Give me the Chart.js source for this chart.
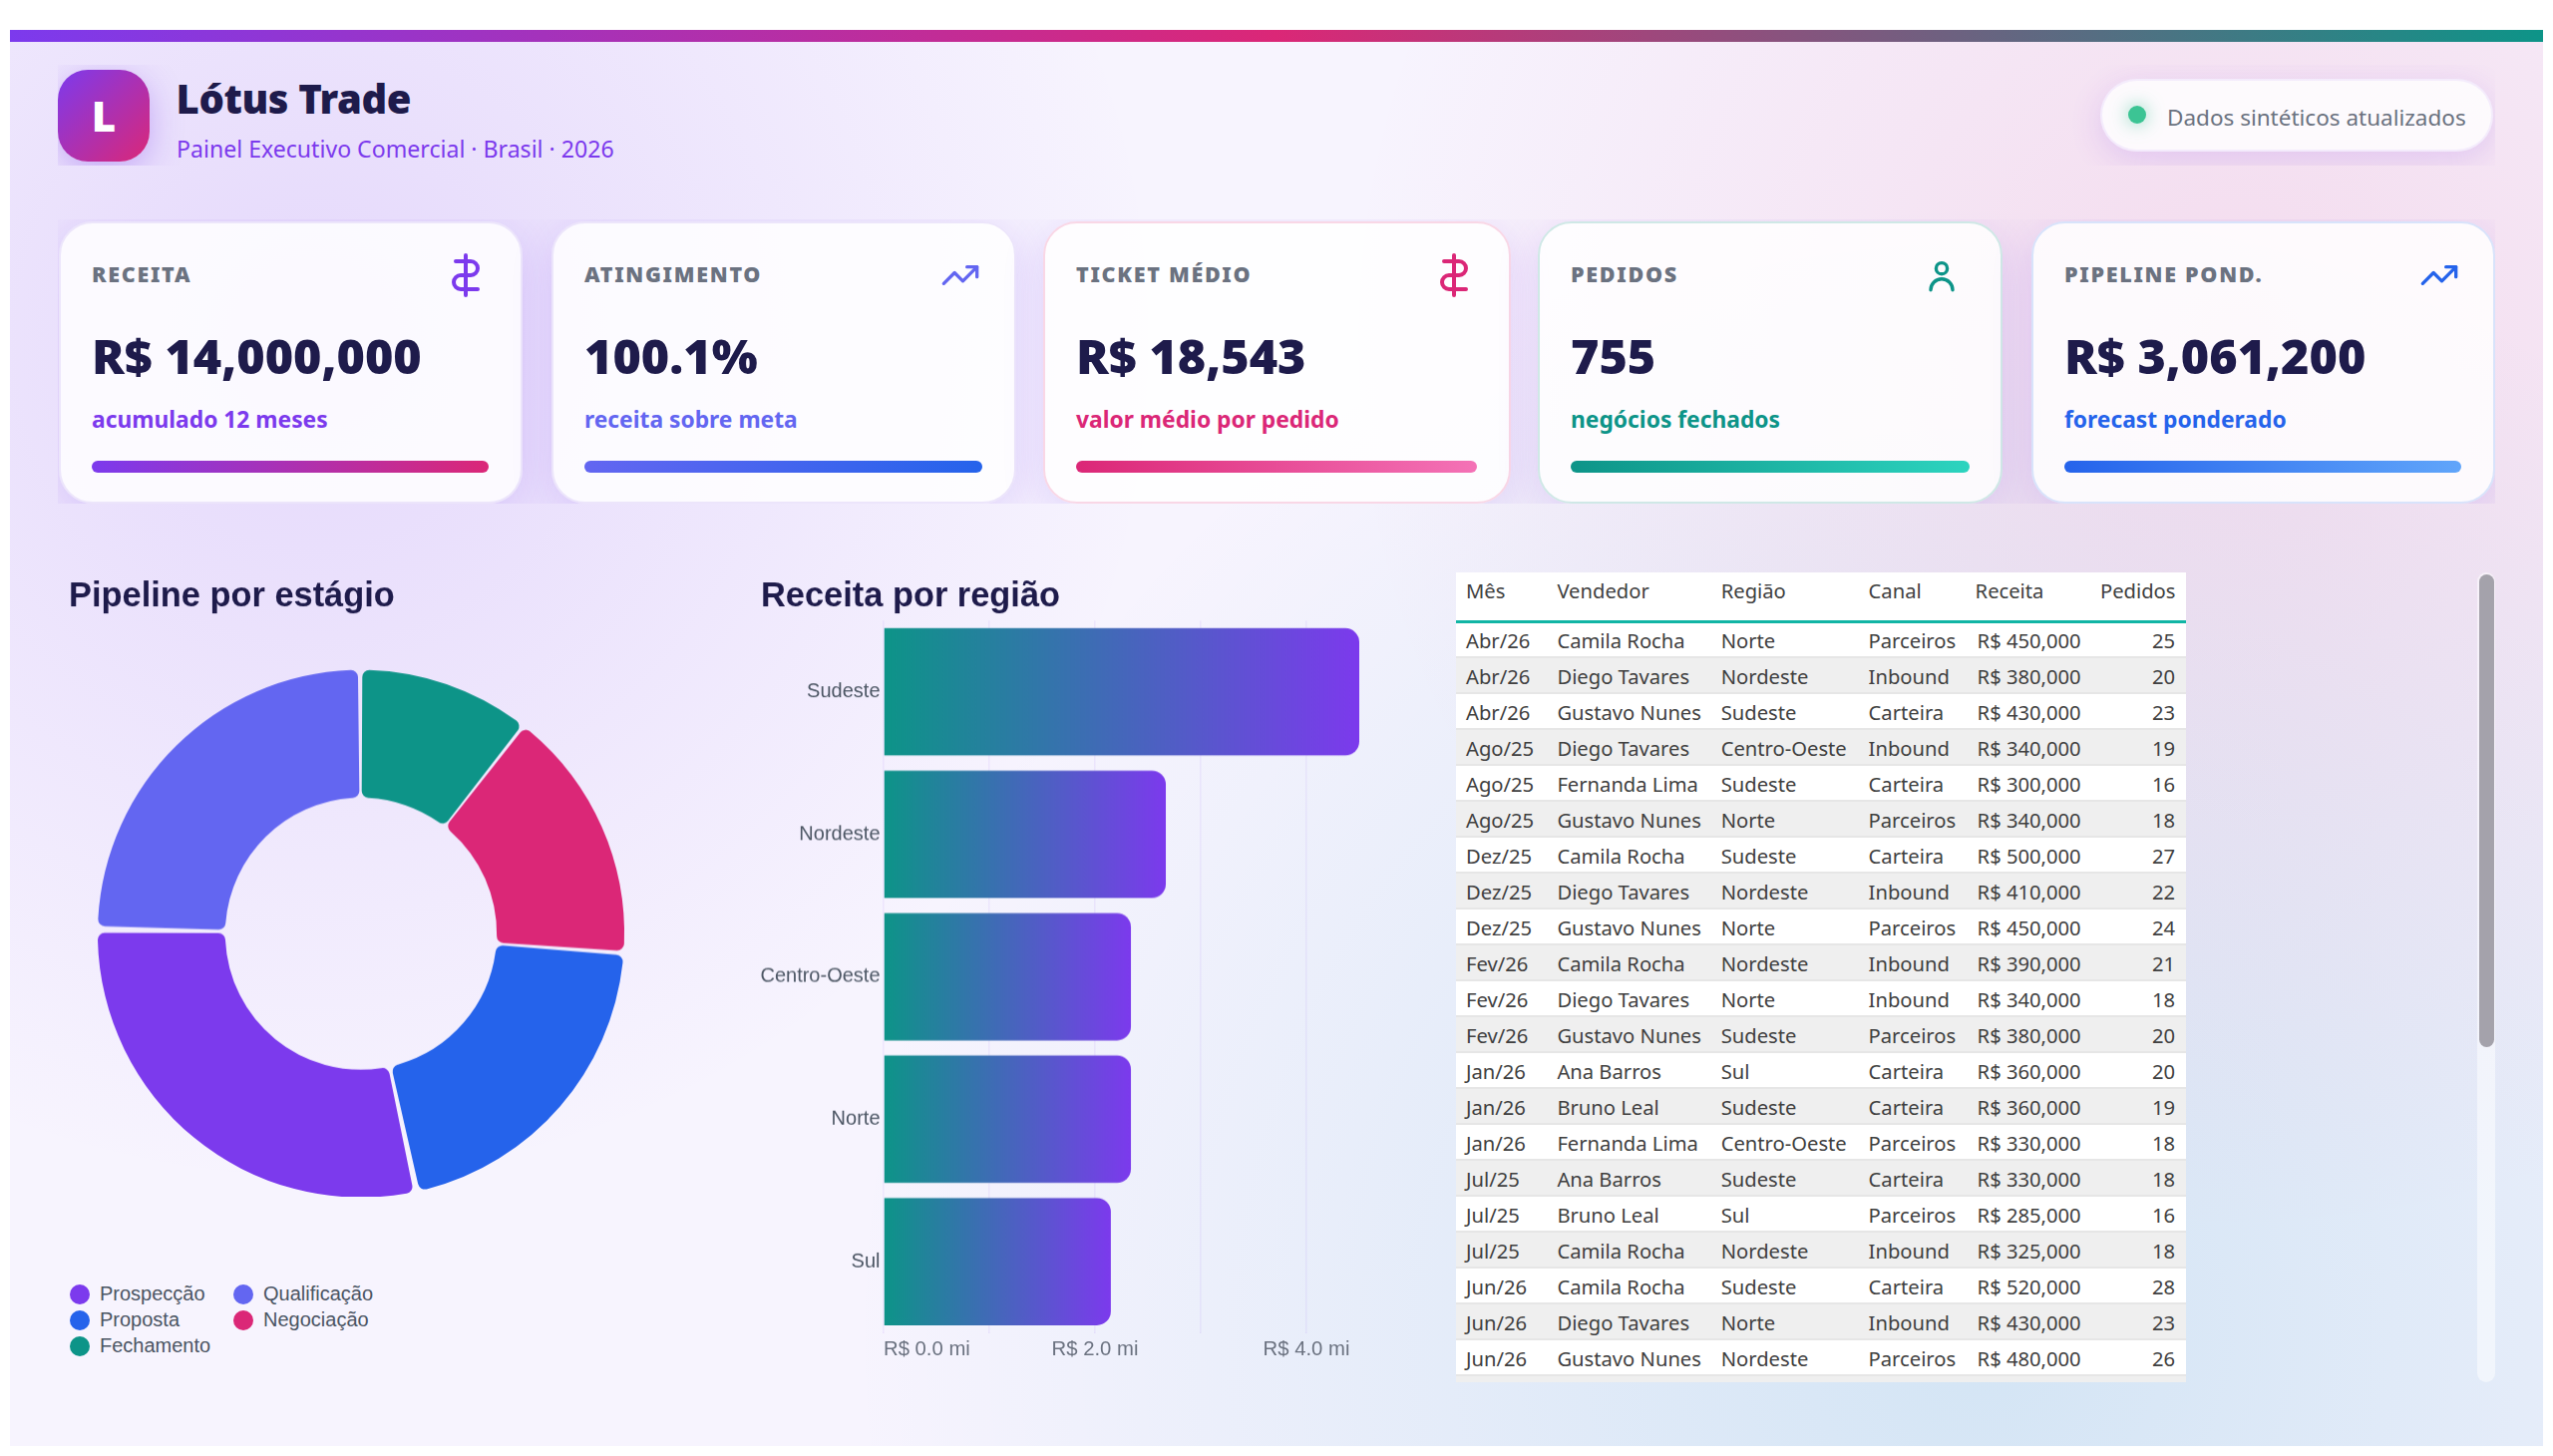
<!DOCTYPE html>
<html lang="pt-BR">
<head>
<meta charset="utf-8">
<title>Lótus Trade</title>
<script src="https://cdn.jsdelivr.net/npm/chart.js@4"></script>
<style>
  html, body { margin: 0; padding: 0; background: #fff; }
  body { width: 2560px; height: 1460px; position: relative; overflow: hidden; font-family: "Noto Sans", sans-serif; }
  #page {
    position: absolute; left: 10px; top: 30px; width: 2540px; height: 1420px; overflow: hidden;
    background:
      radial-gradient(circle at 12% 22%, rgba(124,58,237,.15), transparent 34%),
      radial-gradient(circle at 88% 22%, rgba(219,39,119,.12), transparent 36%),
      radial-gradient(circle at 78% 92%, rgba(6,140,190,.15), transparent 48%),
      #f7f4fe;
  }
  #stripe { position: absolute; left: 0; top: 0; width: 100%; height: 12px; background: linear-gradient(90deg, #7c3aed, #db2777 50%, #0d9488); }
  #head { position: absolute; left: 48px; top: 35px; width: 2444px; height: 101px; overflow: hidden; }
  #logo {
    position: absolute; left: 0; top: 5px; width: 92px; height: 92px; border-radius: 30px;
    background: linear-gradient(135deg, #7c3aed, #db2777); box-shadow: 0 8px 32px rgba(124,58,237,.34);
    color: #fff; font-weight: 900; font-size: 42px; line-height: 92px; text-align: center;
  }
  #brand { position: absolute; left: 118.5px; top: 9px; font-size: 40px; font-weight: 900; color: #1e1b4b; line-height: 50px; letter-spacing: -.4px; }
  #tag { position: absolute; left: 119px; top: 69px; font-size: 23.1px; color: #7c3aed; line-height: 30px; }
  #pill {
    position: absolute; left: 2048px; top: 14px; width: 394px; height: 73px; box-sizing: border-box; border-radius: 37px;
    background: rgba(255,255,255,.82); border: 2px solid rgba(124,58,237,.08); box-shadow: 0 8px 32px rgba(124,58,237,.16);
  }
  #dot { position: absolute; left: 26px; top: 25px; width: 18px; height: 18px; border-radius: 50%; background: #3cc494; box-shadow: 0 0 18px rgba(60,196,148,.65); }
  #pilltxt { position: absolute; left: 65px; top: 22px; font-size: 22.5px; line-height: 30px; color: #6b7280; white-space: nowrap; }
  #cards { position: absolute; left: 48px; top: 190px; width: 2444px; height: 285px; overflow: hidden; }
  .card {
    position: absolute; top: 2px; height: 283px; box-sizing: border-box; border-radius: 34px; border: 2px solid;
    background: rgba(255,255,255,.84); box-shadow: 0 10px 40px rgba(124,58,237,.17);
  }
  .card .lb { position: absolute; left: 31.5px; top: 36.5px; font-size: 21.5px; font-weight: 900; letter-spacing: 1.7px; color: #6b7280; line-height: 28px; }
  .card .val { position: absolute; left: 31.5px; top: 99.5px; font-size: 48.5px; font-weight: 900; color: #1e1b4b; line-height: 64px; white-space: nowrap; }
  .card .sub { position: absolute; left: 31.5px; top: 181.5px; font-size: 22.8px; font-weight: 700; line-height: 30px; white-space: nowrap; }
  .card .bar { position: absolute; left: 31.5px; right: 31.5px; top: 237.5px; height: 12px; border-radius: 6px; }
  .card svg { position: absolute; fill: none; stroke-linecap: round; stroke-linejoin: round; }
  #pieBox { position: absolute; left: 59px; top: 540px; width: 586px; height: 629.7px; }
  #barBox { position: absolute; left: 753px; top: 540px; width: 605px; height: 800.5px; }
  #legend {
    position: absolute; left: 60px; top: 1254.5px; display: grid; grid-template-columns: 164px auto; grid-auto-rows: 26px;
    font: 20px "Liberation Sans", Arial, sans-serif; color: #4b5563;
  }
  #legend span { display: flex; align-items: center; white-space: nowrap; }
  #legend i { width: 20px; height: 20px; border-radius: 50%; margin-right: 10px; display: block; }
  #wrap { position: absolute; left: 1450px; top: 544px; width: 732px; height: 812px; overflow: hidden; background: #fff; }
  table { border-collapse: collapse; width: 732px; table-layout: fixed; font: 20.2px "Noto Sans", sans-serif; color: #404040; }
  th { font-weight: 400; text-align: left; height: 49px; padding: 0 0 11px 10px; border-bottom: 3px solid #11b5a5; box-sizing: border-box; vertical-align: middle; }
  td { height: 36px; padding: 1px 0 0 10px; box-sizing: border-box; border-bottom: 2px solid #e6e6e6; white-space: nowrap; }
  tr:nth-child(even) td { background: #efefef; }
  .num { text-align: right; padding-right: 11px; }
  #track { position: absolute; left: 2474px; top: 544px; width: 18px; height: 812px; border-radius: 9px; background: rgba(255,255,255,.5); }
  #thumb { position: absolute; left: 1.5px; top: 2px; width: 15px; height: 474px; border-radius: 8px; background: #a4a2ab; }
</style>
</head>
<body>
<div id="page">
  <div id="stripe"></div>
  <div id="head">
    <div id="logo">L</div>
    <div id="brand">Lótus Trade</div>
    <div id="tag">Painel Executivo Comercial · Brasil · 2026</div>
    <div id="pill"><div id="dot"></div><div id="pilltxt">Dados sintéticos atualizados</div></div>
  </div>
  <div id="cards"></div>
  <div id="pieBox"><canvas id="pie"></canvas></div>
  <div id="legend"></div>
  <div id="barBox"><canvas id="bars"></canvas></div>
  <div id="wrap"><table id="tbl"><colgroup><col style="width:91.4px"><col style="width:164.3px"><col style="width:147.9px"><col style="width:107px"><col style="width:125.4px"><col style="width:96px"></colgroup><thead></thead><tbody></tbody></table></div>
  <div id="track"><div id="thumb"></div></div>
</div>
<script>
// kpi cards
const kpiLabels = ["RECEITA", "ATINGIMENTO", "TICKET MÉDIO", "PEDIDOS", "PIPELINE POND."];
const kpiValues = ["R$ 14,000,000", "100.1%", "R$ 18,543", "755", "R$ 3,061,200"];
const kpiNotes = ["acumulado 12 meses", "receita sobre meta", "valor médio por pedido", "negócios fechados", "forecast ponderado"];
const kpiIcons = ["money", "trend", "money", "user", "trend"];
const kpiInk = ["#7c3aed", "#6366f1", "#db2777", "#0d9488", "#2563eb"];
const kpiBars = [["#7c3aed", "#db2777"], ["#6366f1", "#2563eb"], ["#db2777", "#f472b6"], ["#0d9488", "#2dd4bf"], ["#2563eb", "#60a5fa"]];
const kpiEdges = ["#ece5fb", "#ece5fb", "#f9d7e6", "#cfe8e6", "#d8e3fb"];
const kpiLeft = [0.5, 494.5, 987.5, 1483.5, 1978.5];
const kpiWidth = [465, 466, 469, 466.5, 465];

// pipeline slices, listed clockwise from twelve o'clock
const stages = ["Fechamento", "Negociação", "Proposta", "Prospecção", "Qualificação"];
const stageValues = [1250000, 1850000, 2420000, 3400000, 2930000];
const stageColors = ["#0d9488", "#db2777", "#2563eb", "#7c3aed", "#6366f1"];
const legendOrder = ["Prospecção", "Qualificação", "Proposta", "Negociação", "Fechamento"];

// revenue by region, R$ millions
const regions = ["Sudeste", "Nordeste", "Centro-Oeste", "Norte", "Sul"];
const regionRevenue = [4.5, 2.67, 2.34, 2.34, 2.15];

// sales table
const tableHead = ["Mês", "Vendedor", "Região", "Canal", "Receita", "Pedidos"];
const months = ["Abr/26","Abr/26","Abr/26","Ago/25","Ago/25","Ago/25","Dez/25","Dez/25","Dez/25","Fev/26","Fev/26","Fev/26","Jan/26","Jan/26","Jan/26","Jul/25","Jul/25","Jul/25","Jun/26","Jun/26","Jun/26"];
const sellers = ["Camila Rocha","Diego Tavares","Gustavo Nunes","Diego Tavares","Fernanda Lima","Gustavo Nunes","Camila Rocha","Diego Tavares","Gustavo Nunes","Camila Rocha","Diego Tavares","Gustavo Nunes","Ana Barros","Bruno Leal","Fernanda Lima","Ana Barros","Bruno Leal","Camila Rocha","Camila Rocha","Diego Tavares","Gustavo Nunes"];
const rowRegions = ["Norte","Nordeste","Sudeste","Centro-Oeste","Sudeste","Norte","Sudeste","Nordeste","Norte","Nordeste","Norte","Sudeste","Sul","Sudeste","Centro-Oeste","Sudeste","Sul","Nordeste","Sudeste","Norte","Nordeste"];
const channels = ["Parceiros","Inbound","Carteira","Inbound","Carteira","Parceiros","Carteira","Inbound","Parceiros","Inbound","Inbound","Parceiros","Carteira","Carteira","Parceiros","Carteira","Parceiros","Inbound","Carteira","Inbound","Parceiros"];
const revenues = [450000,380000,430000,340000,300000,340000,500000,410000,450000,390000,340000,380000,360000,360000,330000,330000,285000,325000,520000,430000,480000];
const orders = [25,20,23,19,16,18,27,22,24,21,18,20,20,19,18,18,16,18,28,23,26];

// size, right offset and top offset per icon kind
const iconBox = { money: [48, 30.5, 28], trend: [40, 34, 32], user: [48, 35, 28] };
const iconPaths = {
  money: '<g transform="matrix(-1 0 0 1 24 0)" stroke-width="2"><line x1="12" y1="2" x2="12" y2="22"/><path d="M17 5H9.5a3.5 3.5 0 0 0 0 7h5a3.5 3.5 0 0 1 0 7H6"/></g>',
  trend: '<g stroke-width="2"><polyline points="22 7 13.5 15.5 8.5 10.5 2 17"/><polyline points="16 7 22 7 22 13"/></g>',
  user: '<g stroke-width="1.7"><circle cx="12" cy="8.6" r="2.8"/><path d="M6.5 19.4a5.5 5.5 0 0 1 11 0"/></g>'
};

const cards = document.getElementById('cards');
kpiLabels.forEach((label, i) => {
  const box = iconBox[kpiIcons[i]];
  const card = document.createElement('div');
  card.className = 'card';
  card.style.left = kpiLeft[i] + 'px';
  card.style.width = kpiWidth[i] + 'px';
  card.style.borderColor = kpiEdges[i];
  card.innerHTML =
    '<div class="lb">' + label + '</div>' +
    '<svg viewBox="0 0 24 24" style="width:' + box[0] + 'px;height:' + box[0] + 'px;right:' + box[1] + 'px;top:' + box[2] + 'px;stroke:' + kpiInk[i] + '">' + iconPaths[kpiIcons[i]] + '</svg>' +
    '<div class="val">' + kpiValues[i] + '</div>' +
    '<div class="sub" style="color:' + kpiInk[i] + '">' + kpiNotes[i] + '</div>' +
    '<div class="bar" style="background:linear-gradient(90deg,' + kpiBars[i][0] + ',' + kpiBars[i][1] + ')"></div>';
  cards.appendChild(card);
});

// legend has aligned columns, which the built-in one can't do
const legend = document.getElementById('legend');
legendOrder.forEach(name => {
  const color = stageColors[stages.indexOf(name)];
  const item = document.createElement('span');
  item.innerHTML = '<i style="background:' + color + '"></i>' + name;
  legend.appendChild(item);
});

// table rows
const brl = n => 'R$ ' + n.toLocaleString('en-US');
document.querySelector('#tbl thead').innerHTML = '<tr>' + tableHead.map((h, i) => '<th' + (i == 5 ? ' class="num"' : '') + '>' + h + '</th>').join('') + '</tr>';
document.querySelector('#tbl tbody').innerHTML = months.map((m, i) =>
  '<tr><td>' + m + '</td><td>' + sellers[i] + '</td><td>' + rowRegions[i] + '</td><td>' + channels[i] +
  '</td><td style="padding-left:12px">' + brl(revenues[i]) + '</td><td class="num">' + orders[i] + '</td></tr>').join('') +
  '<tr><td colspan="6">&nbsp;</td></tr>';

Chart.defaults.animation = false;
Chart.defaults.font.family = '"Liberation Sans", Arial, sans-serif';

const titleFont = { size: 34.4, weight: 'bold', family: '"Liberation Sans", Arial, sans-serif' };

new Chart(document.getElementById('pie'), {
  type: 'doughnut',
  data: {
    labels: stages,
    datasets: [{
      data: stageValues,
      backgroundColor: stageColors,
      borderWidth: 0,
      borderRadius: 7,
      spacing: 6
    }]
  },
  options: {
    responsive: true,
    maintainAspectRatio: false,
    cutout: '51%',
    plugins: {
      legend: { display: false },
      title: { display: true, text: 'Pipeline por estágio', align: 'start', color: '#1e1b4b', font: titleFont, padding: { top: 8, bottom: 52.3 } },
      tooltip: { enabled: false }
    }
  }
});

new Chart(document.getElementById('bars'), {
  type: 'bar',
  data: {
    labels: regions,
    datasets: [{
      data: regionRevenue,
      // each bar runs its own teal to purple ramp
      backgroundColor: ctx => {
        const { chart, parsed } = ctx;
        if (!chart.chartArea || !parsed) return '#7c3aed';
        const x0 = chart.scales.x.getPixelForValue(0);
        const x1 = chart.scales.x.getPixelForValue(parsed.x);
        const g = chart.ctx.createLinearGradient(x0, 0, x1, 0);
        g.addColorStop(0, '#0d9488');
        g.addColorStop(1, '#7c3aed');
        return g;
      },
      borderRadius: { topRight: 14, bottomRight: 14, topLeft: 0, bottomLeft: 0 },
      borderSkipped: false,
      barPercentage: 0.894,
      categoryPercentage: 1
    }]
  },
  options: {
    indexAxis: 'y',
    responsive: true,
    maintainAspectRatio: false,
    layout: { padding: 0 },
    scales: {
      x: {
        min: 0,
        max: 4.5,
        border: { display: false },
        grid: { color: ctx => ctx.tick && ctx.tick.value > 4 ? 'transparent' : 'rgba(124,58,237,.07)', lineWidth: 1.5, tickLength: 0 },
        afterFit: s => { s.height = 35; },
        ticks: {
          stepSize: 1,
          autoSkip: false,
          maxRotation: 0,
          align: 'inner',
          padding: 5,
          color: '#6b7280',
          font: { size: 20.3 },
          callback: v => (v % 2 === 0 ? 'R$ ' + v.toFixed(1) + ' mi' : '')
        }
      },
      y: {
        border: { display: false },
        grid: { display: false, drawTicks: false },
        afterFit: s => { s.width = 123; },
        ticks: { color: '#4b5563', font: { size: 20 }, padding: 3.5 }
      }
    },
    plugins: {
      legend: { display: false },
      title: { display: true, text: 'Receita por região', align: 'start', color: '#1e1b4b', font: titleFont, padding: { top: 8, bottom: 3 } },
      tooltip: { enabled: false }
    }
  }
});
</script>
</body>
</html>
